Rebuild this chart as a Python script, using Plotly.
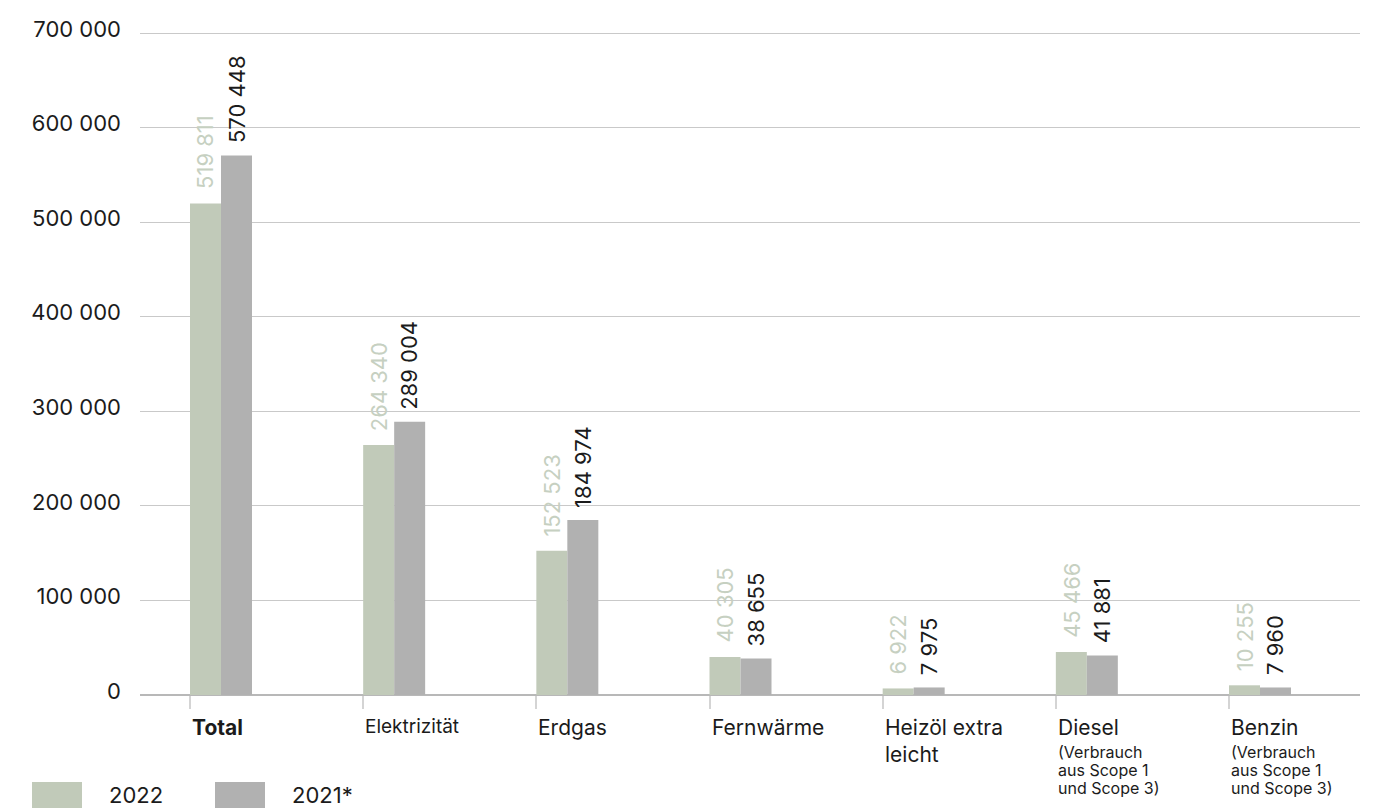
import plotly.graph_objects as go

# Energy consumption by source (values as published)
categories = ["Total", "Elektrizität", "Erdgas", "Fernwärme", "Heizöl extra<br>leicht", "Diesel", "Benzin"]
sub_labels = [[], [], [], [], [], ["(Verbrauch", "aus Scope 1", "und Scope 3)"], ["(Verbrauch", "aus Scope 1", "und Scope 3)"]]
values_2022 = [519811, 264340, 152523, 40305, 6922, 45466, 10255]
values_2021 = [570448, 289004, 184974, 38655, 7975, 41881, 7960]
y_ticks = [0, 100000, 200000, 300000, 400000, 500000, 600000, 700000]
y_tick_text = ["0", "100 000", "200 000", "300 000", "400 000", "500 000", "600 000", "700 000"]

GREEN = "#c1cab9"
GREEN_TEXT = "#c6d0c1"
GREY = "#b1b1b1"
INK = "#1b1b1b"
FONT = "Inter, Roboto, sans-serif"

def fmt(v):
    return f"{v:,}".replace(",", " ")

xs = list(range(len(categories)))
bar_w = 0.179

fig = go.Figure()
fig.add_trace(go.Bar(x=xs, y=values_2022, name="2022", marker_color=GREEN, marker_line_width=0))
fig.add_trace(go.Bar(x=xs, y=values_2021, name="2021*", marker_color=GREY, marker_line_width=0))

annotations = []
for i, (a, b) in enumerate(zip(values_2022, values_2021)):
    annotations.append(dict(x=i - bar_w / 2, y=a, text=fmt(a), textangle=-90, showarrow=False,
                            yanchor="bottom", xanchor="center", yshift=12,
                            font=dict(family=FONT, size=22, color=GREEN_TEXT)))
    annotations.append(dict(x=i + bar_w / 2, y=b, text=fmt(b), textangle=-90, showarrow=False,
                            yanchor="bottom", xanchor="center", yshift=10,
                            font=dict(family=FONT, size=22, color=INK)))

# category labels, left-aligned under each group
for i, (c, subs) in enumerate(zip(categories, sub_labels)):
    size = 19 if c == "Elektrizität" else 21
    txt = f"<b>{c}</b>" if c == "Total" else c
    annotations.append(dict(x=i - bar_w, y=0, yref="paper", text=txt, showarrow=False,
                            xanchor="left", yanchor="top", yshift=-18, align="left",
                            font=dict(family=FONT, size=size, color=INK)))
    for k, line in enumerate(subs):
        annotations.append(dict(x=i - bar_w, y=0, yref="paper", text=line, showarrow=False,
                                xanchor="left", yanchor="middle", yshift=-(57 + 18 * k), align="left",
                                font=dict(family=FONT, size=16, color=INK)))

# plot area in pixels; value axis runs slightly past 700 000 so its gridline shows
L, T, W, H = 140, 31, 1220, 664
y_max = 700000 * H / 662

def px_x(p):
    return (p - L) / W
def px_y(p):
    return (T + H - p) / H

# legend drawn as large swatches along the bottom edge
shapes = []
for x0, col, label in [(32, GREEN, "2022"), (215, GREY, "2021*")]:
    shapes.append(dict(type="rect", xref="paper", yref="paper", x0=px_x(x0), x1=px_x(x0 + 50),
                       y0=px_y(812), y1=px_y(782), fillcolor=col, line_width=0, layer="above"))
    annotations.append(dict(x=px_x(x0 + 75), y=px_y(795), xref="paper", yref="paper", text=label,
                            showarrow=False, xanchor="left", yanchor="middle",
                            font=dict(family=FONT, size=22, color=INK)))

unit = 173.17
fig.update_layout(
    width=1380, height=808,
    margin=dict(l=L, r=1380 - L - W, t=T, b=808 - T - H, pad=0),
    paper_bgcolor="white", plot_bgcolor="white",
    barmode="group", bargap=1 - 2 * bar_w, bargroupgap=0,
    showlegend=False,
    annotations=annotations, shapes=shapes,
    font=dict(family=FONT, color=INK),
    xaxis=dict(range=[-81 / unit, 6 + 100 / unit], showgrid=False, zeroline=False,
               tickvals=[i - bar_w for i in xs], ticktext=[""] * len(xs), showticklabels=False,
               ticks="outside", ticklen=13, tickwidth=1.5, tickcolor="#d4d4d4", showline=False),
    yaxis=dict(range=[0, y_max], tickvals=y_ticks, ticktext=y_tick_text,
               showgrid=True, gridcolor="#c9c9c9", gridwidth=1,
               zeroline=True, zerolinecolor="#b8b8b8", zerolinewidth=1.5,
               ticks="", ticklabelstandoff=18, ticklabelshift=-4,
               tickfont=dict(family=FONT, size=22, color=INK), showline=False),
)

fig.write_html("out.html")
